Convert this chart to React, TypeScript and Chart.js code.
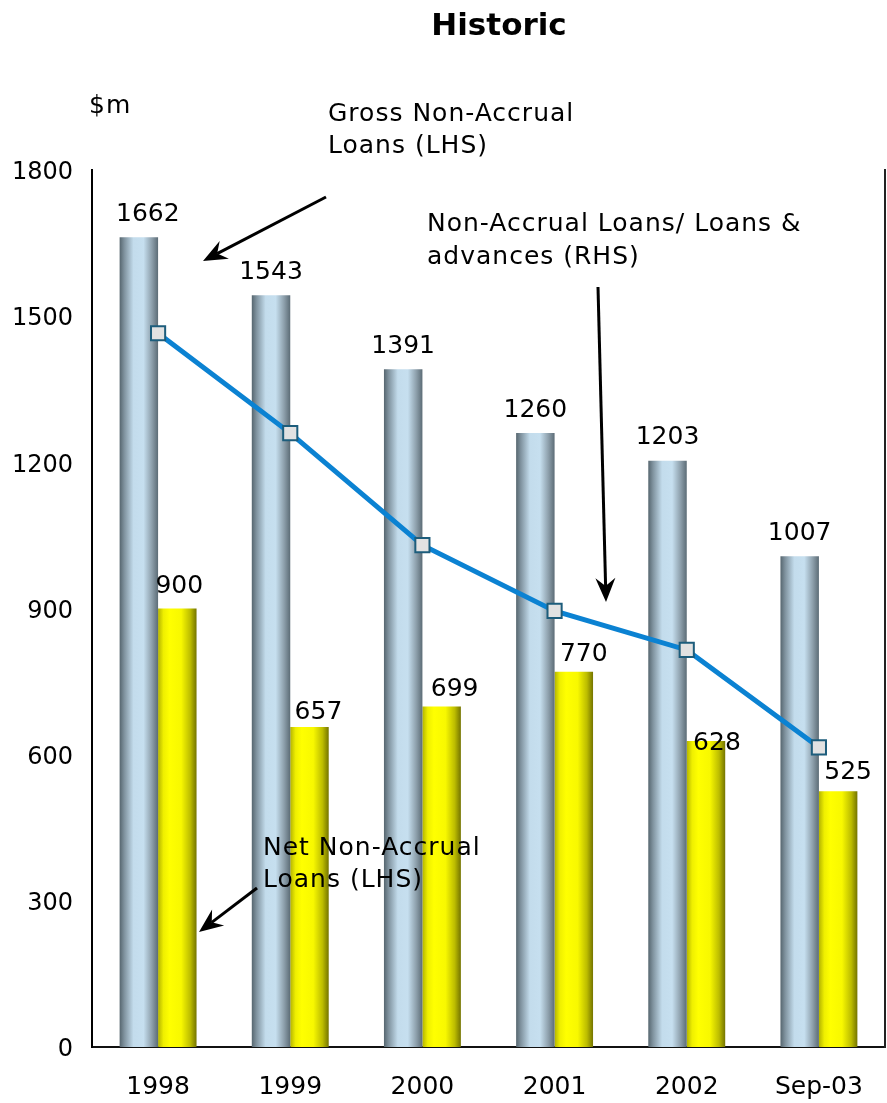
import { useEffect, useRef } from "react";
import { Chart, registerables } from "chart.js";

Chart.register(...registerables);

// Year-end figures ($m) and the ratio of non-accrual loans to loans & advances (%)
const categories = ["1998", "1999", "2000", "2001", "2002", "Sep-03"];
const grossNonAccrual = [1662, 1543, 1391, 1260, 1203, 1007];
const netNonAccrual = [900, 657, 699, 770, 628, 525];
const nonAccrualRatio = [2.93, 2.52, 2.06, 1.79, 1.63, 1.23];
const leftTicks = [0, 300, 600, 900, 1200, 1500, 1800];

const FONT = "'DejaVu Sans', Verdana, sans-serif";
const CAT_PCT = 0.582;

const greyStops: [number, string][] = [
  [0, "#56666f"],
  [0.12, "#7f929e"],
  [0.36, "#c3dcec"],
  [0.62, "#c6dfef"],
  [0.84, "#8d9fab"],
  [1, "#5c6c76"],
];
const yellowStops: [number, string][] = [
  [0, "#b4b400"],
  [0.14, "#efef00"],
  [0.3, "#ffff00"],
  [0.6, "#f8f800"],
  [0.84, "#bcbc00"],
  [1, "#747400"],
];

// Cylinder-like shading across the width of each bar
function shadedBar(stops: [number, string][], slot: number) {
  return (c: any) => {
    const chart = c.chart;
    const xs = chart.scales?.x;
    if (!xs || c.dataIndex == null || !isFinite(xs.width)) return stops[2][1];
    const center = xs.getPixelForValue(c.dataIndex);
    const catW = xs.width / categories.length;
    const barW = (catW * CAT_PCT) / 2;
    const left = center - barW + slot * barW;
    const g = chart.ctx.createLinearGradient(left, 0, left + barW, 0);
    stops.forEach(([o, col]) => g.addColorStop(o, col));
    return g;
  };
}

function arrow(ctx: CanvasRenderingContext2D, x1: number, y1: number, x2: number, y2: number) {
  const ang = Math.atan2(y2 - y1, x2 - x1);
  const len = 24;
  const half = 10;
  const notch = 16;
  ctx.save();
  ctx.strokeStyle = "#000";
  ctx.fillStyle = "#000";
  ctx.lineWidth = 3;
  ctx.beginPath();
  ctx.moveTo(x1, y1);
  ctx.lineTo(x2 - Math.cos(ang) * notch, y2 - Math.sin(ang) * notch);
  ctx.stroke();
  const bx = x2 - Math.cos(ang) * len;
  const by = y2 - Math.sin(ang) * len;
  const nx = x2 - Math.cos(ang) * notch;
  const ny = y2 - Math.sin(ang) * notch;
  ctx.beginPath();
  ctx.moveTo(x2, y2);
  ctx.lineTo(bx + Math.sin(ang) * half, by - Math.cos(ang) * half);
  ctx.lineTo(nx, ny);
  ctx.lineTo(bx - Math.sin(ang) * half, by + Math.cos(ang) * half);
  ctx.closePath();
  ctx.fill();
  ctx.restore();
}

const valueLabels = {
  id: "valueLabels",
  afterDatasetsDraw(chart: any) {
    const ctx = chart.ctx as CanvasRenderingContext2D;
    ctx.save();
    ctx.font = `25px ${FONT}`;
    ctx.fillStyle = "#000";
    ctx.textAlign = "center";
    ctx.textBaseline = "middle";
    const grossDx = [9, 0, 0, 0, 0, 0];
    const netDx = [2, 9, 13, 10, 11, 10];
    const netDy = [-22, -14, -17, -17, 2, -19];
    chart.getDatasetMeta(0).data.forEach((el: any, i: number) => {
      ctx.fillText(String(grossNonAccrual[i]), el.x + grossDx[i], el.y - 23);
    });
    chart.getDatasetMeta(1).data.forEach((el: any, i: number) => {
      ctx.fillText(String(netNonAccrual[i]), el.x + netDx[i], el.y + netDy[i]);
    });
    ctx.restore();
  },
};

const annotations = {
  id: "annotations",
  afterDraw(chart: any) {
    const ctx = chart.ctx as CanvasRenderingContext2D;
    const ys = chart.scales.y;
    ctx.save();
    ctx.fillStyle = "#000";
    ctx.textBaseline = "middle";

    // left axis labels
    ctx.textAlign = "right";
    ctx.font = `24px ${FONT}`;
    leftTicks.forEach((v) => ctx.fillText(String(v), 73, ys.getPixelForValue(v) + 3));

    ctx.textAlign = "center";
    ctx.font = `bold 31px ${FONT}`;
    ctx.fillText("Historic", 499, 27);

    ctx.textAlign = "left";
    ctx.font = `25px ${FONT}`;
    (ctx as any).letterSpacing = "1px";
    ctx.fillText("$m", 89, 106);
    ctx.fillText("Gross Non-Accrual", 328, 114);
    ctx.fillText("Loans (LHS)", 328, 146);
    ctx.fillText("Non-Accrual Loans/ Loans &", 427, 224);
    ctx.fillText("advances (RHS)", 427, 257);
    ctx.fillText("Net Non-Accrual", 263, 848);
    ctx.fillText("Loans (LHS)", 263, 880);
    ctx.restore();

    arrow(ctx, 326, 197, 203, 261);
    arrow(ctx, 598, 287, 606, 602);
    arrow(ctx, 257, 888, 199, 932);
  },
};

export default function App() {
  const canvasRef = useRef<HTMLCanvasElement | null>(null);

  useEffect(() => {
    document.body.style.margin = "0";
    const canvas = canvasRef.current;
    if (!canvas) return;
    const chart = new Chart(canvas, {
      type: "bar",
      data: {
        labels: categories,
        datasets: [
          {
            type: "bar",
            label: "Gross Non-Accrual Loans (LHS)",
            data: grossNonAccrual,
            backgroundColor: shadedBar(greyStops, 0),
            borderWidth: 0,
            categoryPercentage: CAT_PCT,
            barPercentage: 1,
            yAxisID: "y",
            order: 1,
          },
          {
            type: "bar",
            label: "Net Non-Accrual Loans (LHS)",
            data: netNonAccrual,
            backgroundColor: shadedBar(yellowStops, 1),
            borderWidth: 0,
            categoryPercentage: CAT_PCT,
            barPercentage: 1,
            yAxisID: "y",
            order: 1,
          },
          {
            type: "line",
            label: "Non-Accrual Loans/ Loans & advances (RHS)",
            data: nonAccrualRatio,
            borderColor: "#0b82d2",
            borderWidth: 5,
            pointStyle: "rect",
            pointRadius: 10,
            pointBackgroundColor: "#e2e2e2",
            pointBorderColor: "#1d5d7c",
            pointBorderWidth: 2,
            tension: 0,
            clip: false,
            yAxisID: "y1",
            order: 0,
          } as any,
        ],
      },
      options: {
        responsive: false,
        animation: false,
        events: [],
        layout: { autoPadding: false, padding: { top: 170, left: 0, right: 2, bottom: 0 } },
        plugins: {
          legend: { display: false },
          title: { display: false },
          tooltip: { enabled: false },
        },
        scales: {
          x: {
            grid: { display: false, drawTicks: false },
            border: { display: true, color: "#111", width: 2 },
            ticks: {
              color: "#000",
              font: { family: FONT, size: 25 },
              padding: 25,
              maxRotation: 0,
              autoSkip: false,
            },
            afterFit: (s: any) => {
              s.height = 56;
              s.paddingLeft = 0;
              s.paddingRight = 0;
            },
          },
          y: {
            position: "left",
            min: 0,
            max: 1800,
            grid: { display: false, drawTicks: false },
            border: { display: true, color: "#000", width: 2 },
            ticks: { display: false },
            afterBuildTicks: (s: any) => {
              s.ticks = leftTicks.map((v) => ({ value: v }));
            },
            afterFit: (s: any) => {
              s.width = 92;
              s.paddingTop = 0;
              s.paddingBottom = 0;
            },
          },
          y1: {
            position: "right",
            min: 0,
            max: 3.6,
            grid: { display: false, drawTicks: false },
            border: { display: true, color: "#222", width: 2 },
            ticks: { display: false },
            afterFit: (s: any) => {
              s.width = 0;
              s.paddingTop = 0;
              s.paddingBottom = 0;
            },
          },
        },
      },
      plugins: [valueLabels, annotations],
    });
    return () => chart.destroy();
  }, []);

  return <canvas ref={canvasRef} width={887} height={1103} style={{ display: "block" }} />;
}
